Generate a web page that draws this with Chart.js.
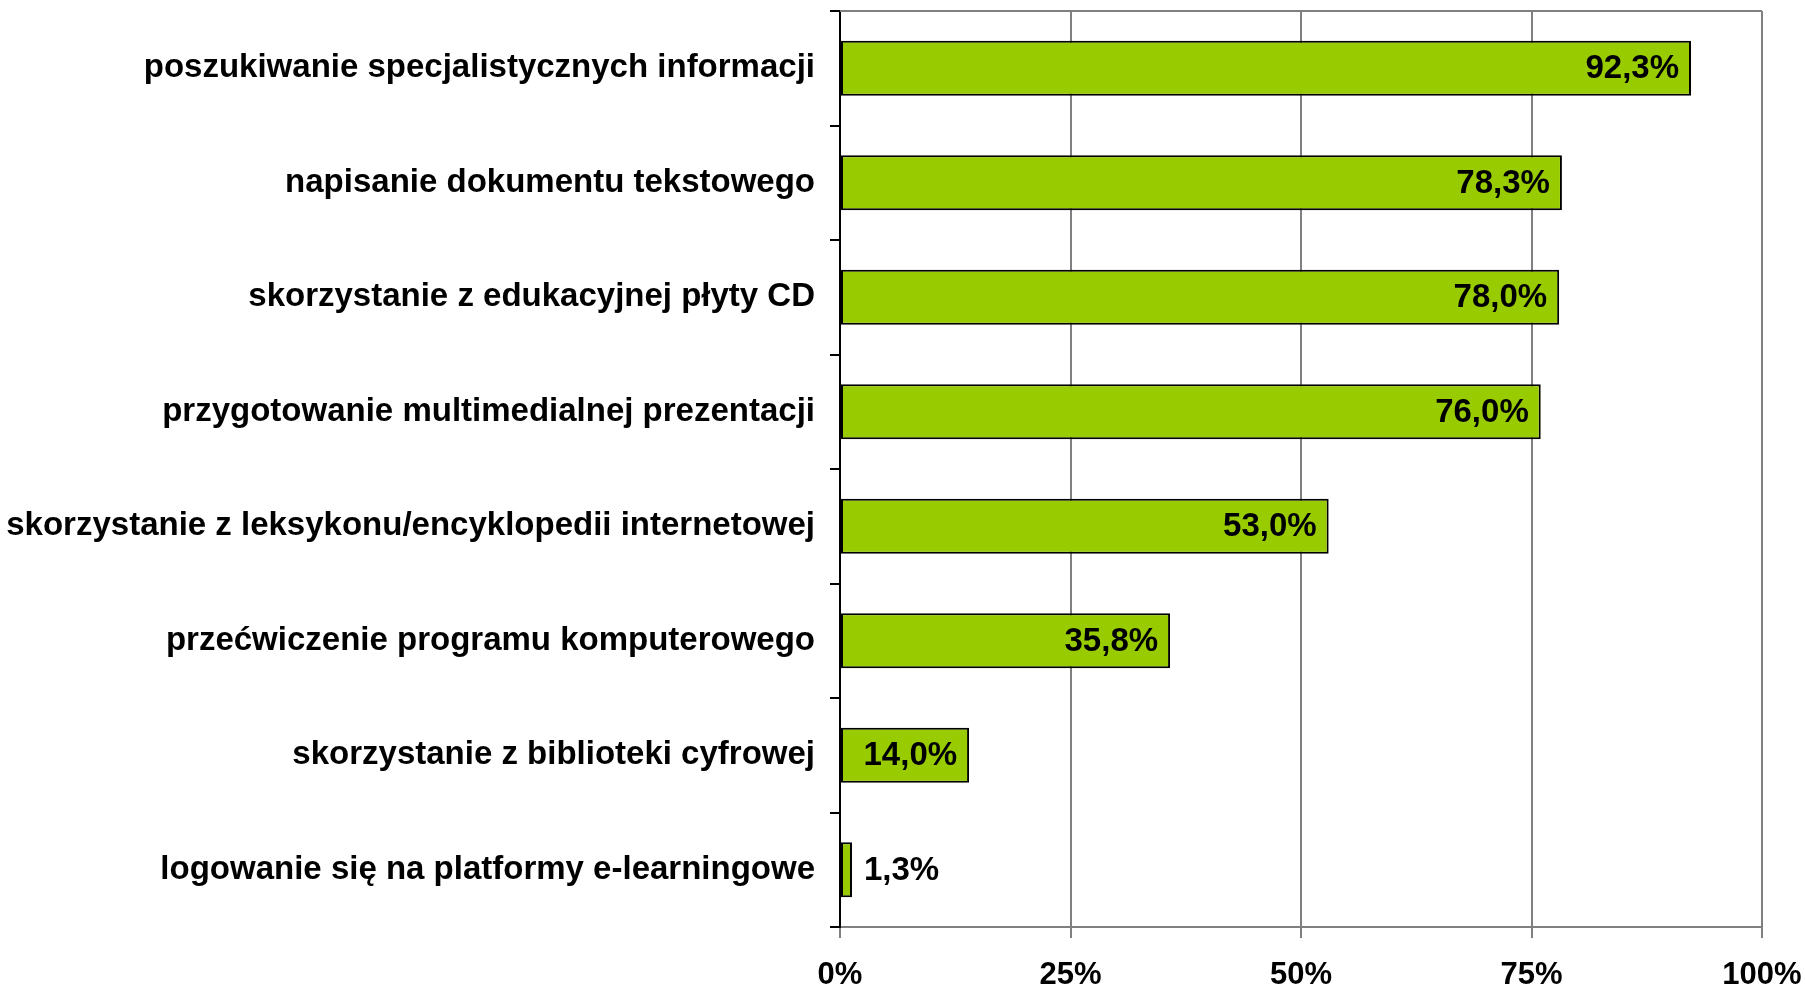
<!DOCTYPE html>
<html>
<head>
<meta charset="utf-8">
<script src="https://cdn.jsdelivr.net/npm/chart.js@4/dist/chart.umd.min.js"></script>
<style>
  body { margin: 0; background: #fff; }
  #wrap { width: 1805px; height: 990px; }
</style>
</head>
<body>
<div id="wrap"><canvas id="chart"></canvas></div>
<script>
// dane z wykresu
const categories = [
  'poszukiwanie specjalistycznych informacji',
  'napisanie dokumentu tekstowego',
  'skorzystanie z edukacyjnej płyty CD',
  'przygotowanie multimedialnej prezentacji',
  'skorzystanie z leksykonu/encyklopedii internetowej',
  'przećwiczenie programu komputerowego',
  'skorzystanie z biblioteki cyfrowej',
  'logowanie się na platformy e-learningowe'
];
const values = [92.3, 78.3, 78.0, 76.0, 53.0, 35.8, 14.0, 1.3];
const xTicks = [0, 25, 50, 75, 100];

const FONT = '"Liberation Sans", Arial, sans-serif';

// etykiety wartości przy końcach słupków
const valueLabels = {
  id: 'valueLabels',
  afterDatasetsDraw(chart) {
    const ctx = chart.ctx;
    const meta = chart.getDatasetMeta(0);
    ctx.save();
    ctx.font = 'bold 33px ' + FONT;
    ctx.fillStyle = '#000';
    ctx.textBaseline = 'middle';
    meta.data.forEach((bar, i) => {
      const txt = values[i].toFixed(1).replace('.', ',') + '%';
      const w = ctx.measureText(txt).width;
      const barW = bar.x - bar.base;
      if (barW > w + 24) {
        ctx.textAlign = 'right';
        ctx.fillText(txt, bar.x - 12, bar.y + 1);
      } else {
        ctx.textAlign = 'left';
        ctx.fillText(txt, bar.x + 12, bar.y + 1);
      }
    });
    ctx.restore();
  }
};

// górna krawędź obszaru wykresu
const topBorder = {
  id: 'topBorder',
  beforeDatasetsDraw(chart) {
    const { ctx, chartArea } = chart;
    ctx.save();
    ctx.strokeStyle = '#808080';
    ctx.lineWidth = 2;
    ctx.beginPath();
    ctx.moveTo(chartArea.left, chartArea.top);
    ctx.lineTo(chartArea.right, chartArea.top);
    ctx.stroke();
    ctx.restore();
  }
};

new Chart(document.getElementById('chart'), {
  type: 'bar',
  data: {
    labels: categories,
    datasets: [{
      data: values,
      backgroundColor: '#99CC00',
      borderColor: '#000',
      borderWidth: 2,
      borderSkipped: false,
      barPercentage: 0.48,
      categoryPercentage: 1.0
    }]
  },
  options: {
    indexAxis: 'y',
    responsive: true,
    maintainAspectRatio: false,
    animation: false,
    layout: { padding: { top: 11, right: 43, left: 0, bottom: 0 } },
    plugins: {
      legend: { display: false },
      tooltip: { enabled: false }
    },
    scales: {
      x: {
        min: 0,
        max: 100,
        afterBuildTicks(scale) {
          scale.ticks = xTicks.map(v => ({ value: v }));
        },
        afterFit(scale) {
          scale.height = 63;
          scale.paddingLeft = 0;
          scale.paddingRight = 0;
        },
        grid: {
          color: '#808080',
          lineWidth: 2,
          tickLength: 11,
          tickColor: '#808080'
        },
        border: { color: '#808080', width: 2 },
        ticks: {
          color: '#000',
          padding: 19,
          font: { family: FONT, size: 31, weight: 'bold' },
          callback: v => v + '%'
        }
      },
      y: {
        afterFit(scale) {
          scale.width = 840;
          scale.paddingTop = 0;
          scale.paddingBottom = 0;
        },
        grid: {
          drawOnChartArea: false,
          drawTicks: true,
          tickLength: 10,
          tickColor: '#000',
          lineWidth: 2
        },
        border: { color: '#000', width: 2 },
        ticks: {
          color: '#000',
          padding: 15,
          font: { family: FONT, size: 33, weight: 'bold' }
        }
      }
    }
  },
  plugins: [topBorder, valueLabels]
});
</script>
</body>
</html>
